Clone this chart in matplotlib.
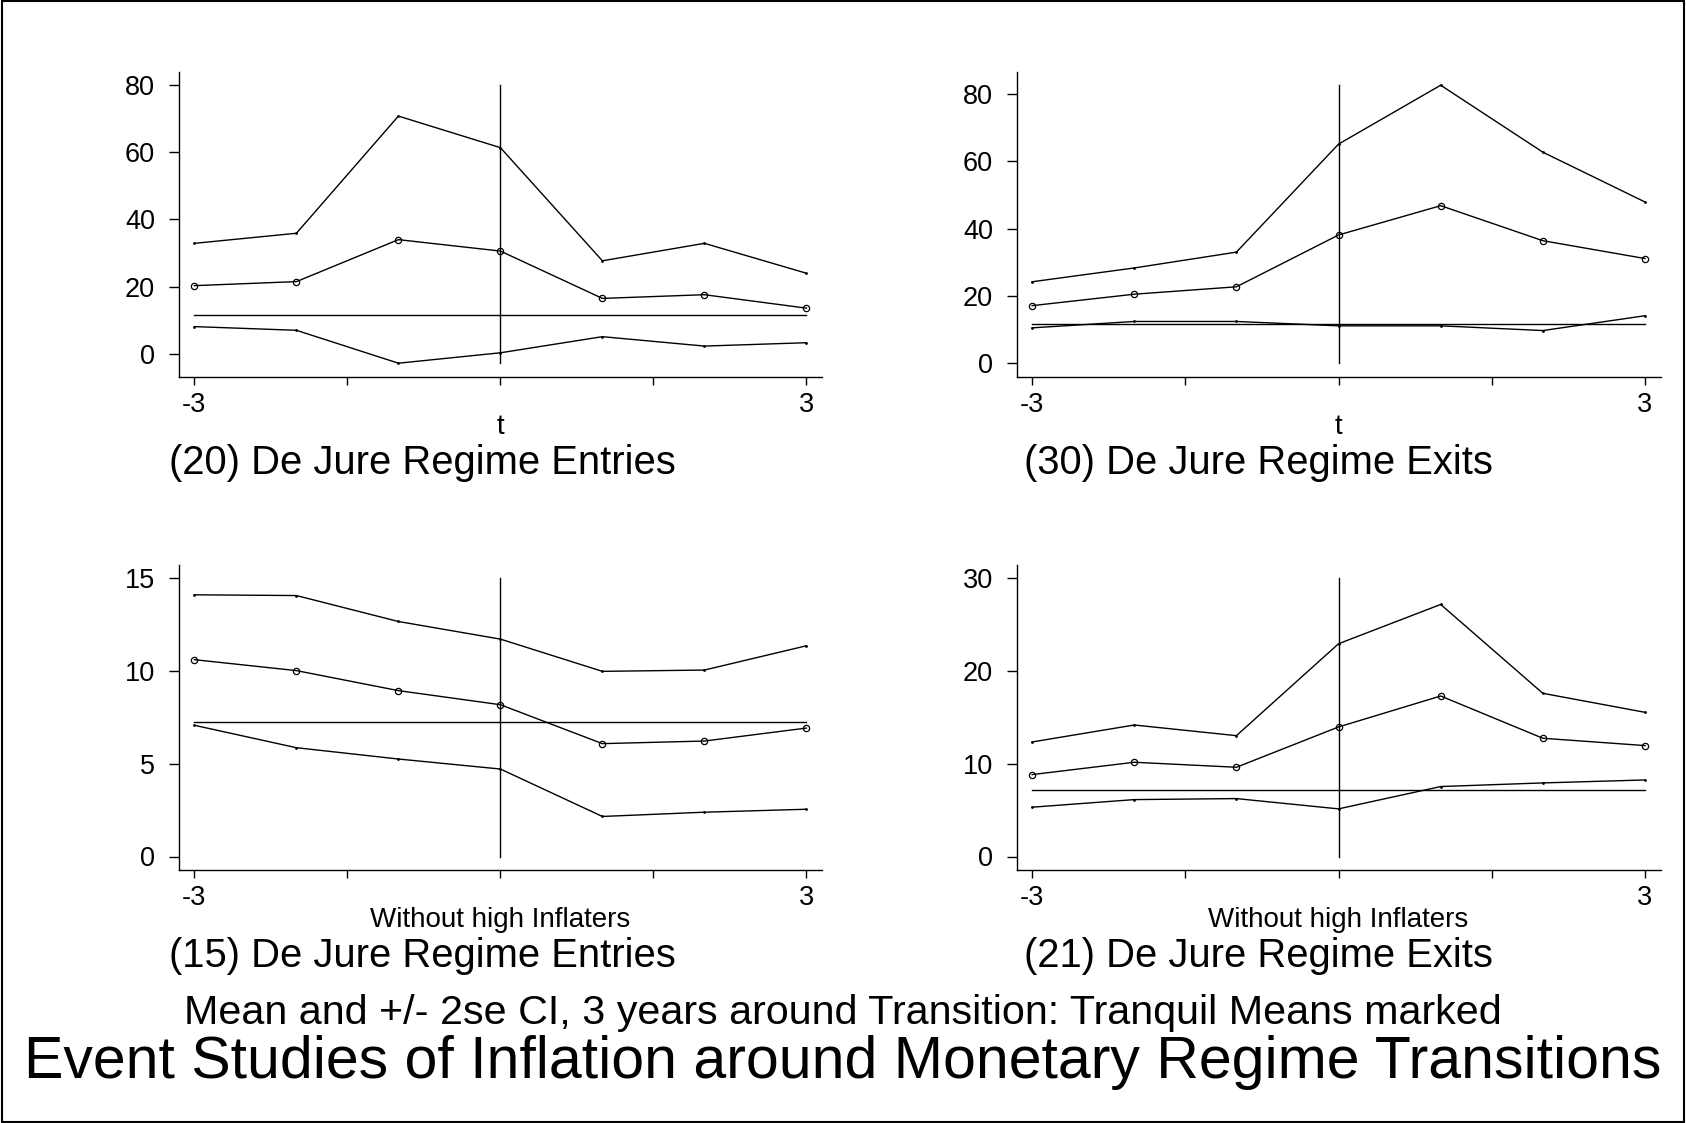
import matplotlib.pyplot as plt
from matplotlib.patches import Rectangle

plt.rcParams["font.family"] = ["Liberation Sans", "DejaVu Sans"]

years = [-3, -2, -1, 0, 1, 2, 3]
xtick_pos = [-3, -1.5, 0, 1.5, 3]
xtick_labels = ["-3", "", "", "", "3"]

# all transitions
entries_upper = [32.9, 35.9, 70.8, 61.4, 27.7, 32.9, 24.0]
entries_mean = [20.3, 21.5, 34.0, 30.6, 16.5, 17.6, 13.6]
entries_lower = [8.1, 7.0, -2.8, 0.3, 5.1, 2.3, 3.3]
entries_tranquil = 11.6

exits_upper = [24.2, 28.3, 33.0, 65.1, 82.6, 62.7, 47.9]
exits_mean = [17.1, 20.5, 22.7, 38.1, 46.8, 36.4, 31.1]
exits_lower = [10.5, 12.4, 12.4, 11.1, 11.1, 9.7, 14.1]
exits_tranquil = 11.6

# without high inflaters
entries_nh_upper = [14.12, 14.08, 12.68, 11.73, 9.99, 10.06, 11.37]
entries_nh_mean = [10.62, 10.03, 8.95, 8.19, 6.09, 6.23, 6.93]
entries_nh_lower = [7.08, 5.87, 5.26, 4.72, 2.16, 2.39, 2.55]
entries_nh_tranquil = 7.24

exits_nh_upper = [12.36, 14.19, 13.04, 22.96, 27.2, 17.61, 15.56]
exits_nh_mean = [8.84, 10.17, 9.63, 13.98, 17.32, 12.76, 11.97]
exits_nh_lower = [5.32, 6.14, 6.25, 5.14, 7.55, 7.94, 8.26]
exits_nh_tranquil = 7.19

W, H = 1686, 1123


def draw_panel(rect, upper, mean, lower, tranquil, yticks, xlabel, title):
    left, top, right, bottom = rect
    ax = fig.add_axes([left / W, 1 - bottom / H, (right - left) / W, (bottom - top) / H])

    ax.plot(years, upper, color="black", lw=1.0, marker=".", markersize=2)
    ax.plot(years, lower, color="black", lw=1.0, marker=".", markersize=2)
    ax.plot(years, mean, color="black", lw=1.0, marker="o", markersize=4.5,
            markerfacecolor="none", markeredgewidth=0.9)
    ax.plot([years[0], years[-1]], [tranquil, tranquil], color="black", lw=1.0)

    lo = min(0, min(lower))
    hi = max(yticks[-1], max(upper))
    ax.plot([0, 0], [lo, hi], color="black", lw=1.0)

    d = (hi - lo) * 13.5 / 278
    ax.set_ylim(lo - d, hi + d)
    ax.set_xlim(-3.153, 3.153)

    ax.set_yticks(yticks)
    ax.set_yticklabels([str(v) for v in yticks])
    ax.set_xticks(xtick_pos)
    ax.set_xticklabels(xtick_labels)
    ax.tick_params(axis="y", direction="out", length=7, width=1.0, labelsize=19.5, pad=10)
    ax.tick_params(axis="x", direction="out", length=6, width=1.0, labelsize=19.5, pad=5)

    for s in ["top", "right"]:
        ax.spines[s].set_visible(False)
    for s in ["left", "bottom"]:
        ax.spines[s].set_linewidth(1.0)

    ax.text(0.5, -0.165, xlabel, transform=ax.transAxes, ha="center", va="center",
            fontsize=20)
    cx = 422.6 / W if left < W / 2 else 1259 / W
    cy = 1 - (bottom + 86) / H
    fig.text(cx, cy, title, ha="center", va="center", fontsize=28.8)
    return ax


fig = plt.figure(figsize=(W / 100, H / 100), dpi=100)

draw_panel((178.8, 71.7, 822, 376.7), entries_upper, entries_mean, entries_lower,
           entries_tranquil, [0, 20, 40, 60, 80], "t", "(20) De Jure Regime Entries")
draw_panel((1016.5, 71.7, 1660.6, 376.7), exits_upper, exits_mean, exits_lower,
           exits_tranquil, [0, 20, 40, 60, 80], "t", "(30) De Jure Regime Exits")
draw_panel((178.8, 565, 822, 870), entries_nh_upper, entries_nh_mean, entries_nh_lower,
           entries_nh_tranquil, [0, 5, 10, 15], "Without high Inflaters",
           "(15) De Jure Regime Entries")
draw_panel((1016.5, 565, 1660.6, 870), exits_nh_upper, exits_nh_mean, exits_nh_lower,
           exits_nh_tranquil, [0, 10, 20, 30], "Without high Inflaters",
           "(21) De Jure Regime Exits")

fig.text(0.5, 1 - 1013 / H,
         "Mean and +/- 2se CI, 3 years around Transition: Tranquil Means marked",
         ha="center", va="center", fontsize=29.7)
fig.text(0.5, 1 - 1063 / H,
         "Event Studies of Inflation around Monetary Regime Transitions",
         ha="center", va="center", fontsize=42.5)

fig.patches.append(Rectangle((0.001, 0.001), 0.998, 0.998, transform=fig.transFigure,
                             fill=False, edgecolor="black", lw=1.5))

fig.savefig("out.png", dpi=100, facecolor="white")
